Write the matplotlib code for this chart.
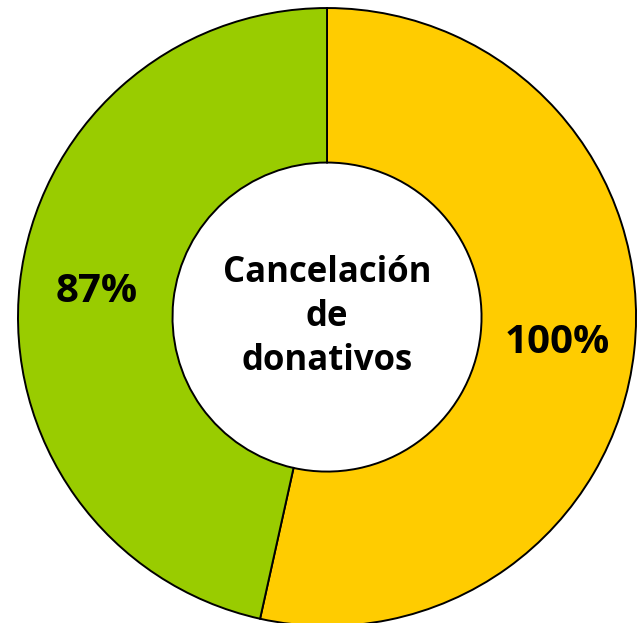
import matplotlib.pyplot as plt

# data
categories = ['Cancelados', 'Pendientes']
values = [100, 87]
labels = ['100%', '87%']
colors = ['#FFCC00', '#99CC00']
center_text = 'Cancelación\nde\ndonativos'

plt.rcParams['font.family'] = ['Open Sans', 'DejaVu Sans']

fig = plt.figure(figsize=(6.42, 6.23), dpi=100)
ax = fig.add_axes([0, 0, 1, 1])

wedges, texts = ax.pie(values, labels=labels, colors=colors, startangle=90,
                       counterclock=False, labeldistance=0.75,
                       wedgeprops=dict(width=0.5, edgecolor='black', linewidth=1.4),
                       textprops=dict(fontsize=29, fontweight='bold', color='black'))
for t in texts:
    t.set_horizontalalignment('center')
    t.set_verticalalignment('center')

ax.text(0, 0, center_text, ha='center', va='center', fontsize=25,
        fontweight='bold', linespacing=1.3)

ax.set_xlim(-1.058, 1.019)
ax.set_ylim(-0.990, 1.026)
ax.set_aspect('equal')
ax.axis('off')

plt.savefig('out.png', dpi=100)
